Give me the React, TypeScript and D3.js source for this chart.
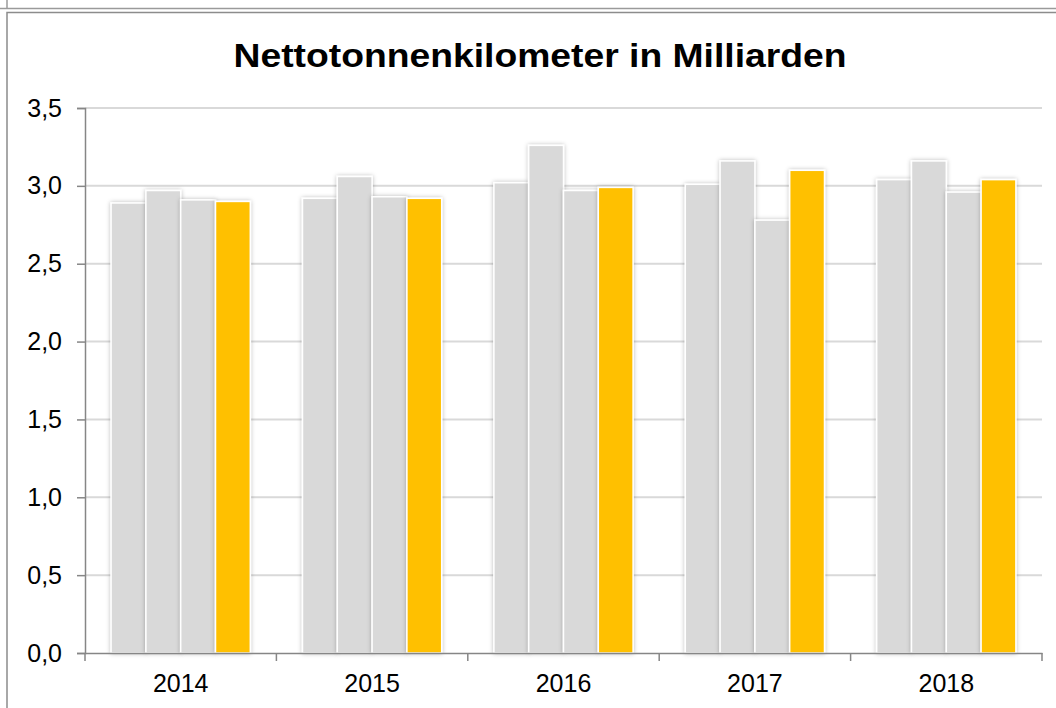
import React, { useEffect, useRef } from "react";
import * as d3 from "d3";

const years = ["2014", "2015", "2016", "2017", "2018"];
const q1 = [2.89, 2.92, 3.02, 3.01, 3.04];
const q2 = [2.97, 3.06, 3.26, 3.16, 3.16];
const q3 = [2.91, 2.93, 2.97, 2.78, 2.96];
const q4 = [2.9, 2.92, 2.99, 3.1, 3.04];
const yTicks = [0, 0.5, 1, 1.5, 2, 2.5, 3, 3.5];
const title = "Nettotonnenkilometer in Milliarden";

const seriesColors = ["#d9d9d9", "#d9d9d9", "#d9d9d9", "#ffc000"];

const App = () => {
  const ref = useRef<SVGSVGElement>(null);

  useEffect(() => {
    const svg = d3.select(ref.current);
    svg.selectAll("*").remove();

    const width = 1056,
      height = 708,
      left = 85,
      right = 1042,
      top = 108,
      bottom = 653;

    const series = [q1, q2, q3, q4];
    const rows = years.map((y, i) => ({ year: y, values: series.map((s) => s[i]) }));

    const x = d3.scaleBand().domain(years).range([left, right]).padding(0);
    const xi = d3
      .scaleBand<number>()
      .domain([0, 1, 2, 3])
      .range([0, x.bandwidth()])
      .paddingInner(0)
      .paddingOuter(0.75);
    const y = d3.scaleLinear().domain([0, 3.5]).range([bottom, top]);

    const font = "Arial, 'Liberation Sans', sans-serif";

    // shadow for bars
    const defs = svg.append("defs");
    defs
      .append("filter")
      .attr("id", "shadow")
      .attr("x", "-20%")
      .attr("y", "-20%")
      .attr("width", "140%")
      .attr("height", "140%")
      .append("feDropShadow")
      .attr("dx", 0)
      .attr("dy", 0)
      .attr("stdDeviation", 2.2)
      .attr("flood-color", "#000")
      .attr("flood-opacity", 0.28);

    // frame
    svg
      .append("line")
      .attr("x1", 0)
      .attr("x2", width)
      .attr("y1", 8.5)
      .attr("y2", 8.5)
      .attr("stroke", "#9a9a9a")
      .attr("stroke-width", 1.5);
    svg
      .append("line")
      .attr("x1", 7)
      .attr("x2", 7)
      .attr("y1", 0)
      .attr("y2", 8.5)
      .attr("stroke", "#9a9a9a")
      .attr("stroke-width", 1.5);
    svg
      .append("rect")
      .attr("x", 7)
      .attr("y", 12.5)
      .attr("width", width + 20)
      .attr("height", height + 20)
      .attr("fill", "#fff")
      .attr("stroke", "#8c8c8c")
      .attr("stroke-width", 1.5);

    // title
    svg
      .append("text")
      .attr("x", 540)
      .attr("y", 67)
      .attr("text-anchor", "middle")
      .attr("textLength", 613)
      .attr("lengthAdjust", "spacingAndGlyphs")
      .style("font-family", font)
      .style("font-weight", "bold")
      .style("font-size", "34px")
      .attr("fill", "#000")
      .text(title);

    // gridlines
    svg
      .append("g")
      .selectAll("line")
      .data(yTicks.filter((t) => t > 0))
      .enter()
      .append("line")
      .attr("x1", left)
      .attr("x2", right)
      .attr("y1", (d) => y(d))
      .attr("y2", (d) => y(d))
      .attr("stroke", "#d9d9d9")
      .attr("stroke-width", 2);

    // bars
    const groups = svg
      .append("g")
      .selectAll("g")
      .data(rows)
      .enter()
      .append("g")
      .attr("transform", (d) => `translate(${x(d.year)},0)`);

    groups
      .selectAll("rect")
      .data((d) => d.values)
      .enter()
      .append("rect")
      .attr("x", (_d, i) => xi(i)!)
      .attr("y", (d) => y(d))
      .attr("width", xi.bandwidth())
      .attr("height", (d) => bottom - y(d))
      .attr("fill", (_d, i) => seriesColors[i])
      .attr("stroke", "#fff")
      .attr("stroke-width", 1.5)
      .attr("filter", "url(#shadow)");

    // y axis
    const yAxis = svg
      .append("g")
      .attr("transform", `translate(${left},0)`)
      .call(
        d3
          .axisLeft(y)
          .tickValues(yTicks)
          .tickSize(8)
          .tickPadding(15)
          .tickFormat((d) => d3.format(".1f")(d as number).replace(".", ","))
      );
    yAxis.select(".domain").attr("stroke", "#868686").attr("stroke-width", 1.5);
    yAxis.selectAll(".tick line").attr("stroke", "#868686").attr("stroke-width", 1.5);
    yAxis
      .selectAll(".tick text")
      .style("font-family", font)
      .style("font-size", "25px")
      .attr("fill", "#000");

    // x axis
    const xAxis = svg
      .append("g")
      .attr("transform", `translate(0,${bottom})`)
      .call(d3.axisBottom(x).tickSize(0).tickPadding(0));
    xAxis.select(".domain").attr("stroke", "#868686").attr("stroke-width", 1.5);
    xAxis.selectAll(".tick line").remove();
    xAxis
      .selectAll(".tick text")
      .attr("dy", 0)
      .attr("y", 39)
      .style("font-family", font)
      .style("font-size", "25px")
      .attr("fill", "#000");
    xAxis
      .selectAll(".sep")
      .data(d3.range(years.length + 1))
      .enter()
      .append("line")
      .attr("class", "sep")
      .attr("x1", (i) => left + i * x.step())
      .attr("x2", (i) => left + i * x.step())
      .attr("y1", 0)
      .attr("y2", 8)
      .attr("stroke", "#868686")
      .attr("stroke-width", 1.5);
  }, []);

  return (
    <svg
      ref={ref}
      width={1056}
      height={708}
      style={{ position: "absolute", left: 0, top: 0, background: "#fff" }}
    ></svg>
  );
};

export default App;
